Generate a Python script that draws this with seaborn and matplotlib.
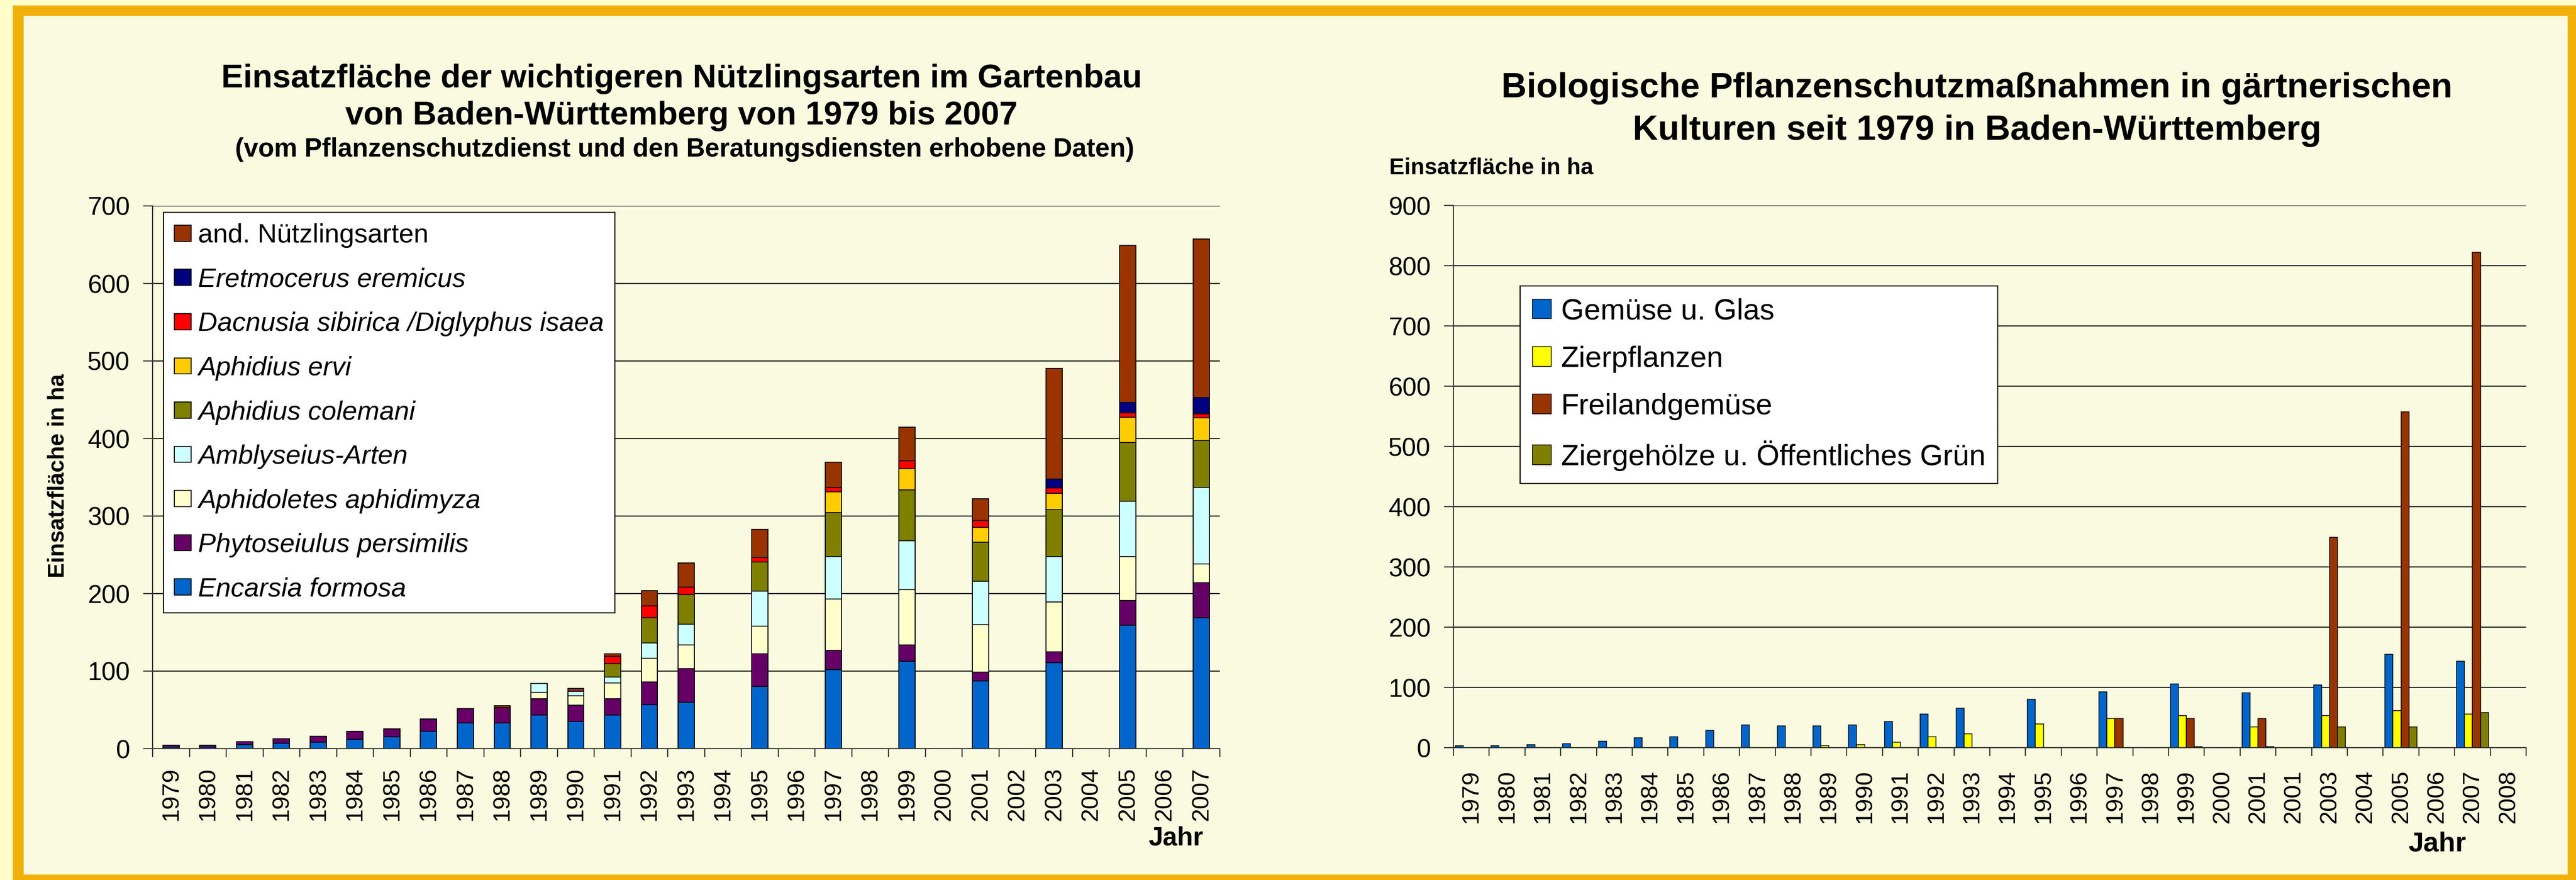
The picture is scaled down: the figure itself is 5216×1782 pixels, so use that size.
import matplotlib
matplotlib.use('Agg')
import matplotlib.pyplot as plt
from matplotlib.patches import Rectangle, Patch
import seaborn as sns
import numpy as np
import pandas as pd

# Stil
sns.set_style('white')
plt.rcParams['font.family'] = ['Liberation Sans', 'DejaVu Sans']
plt.rcParams['text.color'] = 'black'
plt.rcParams['xtick.color'] = 'black'
plt.rcParams['ytick.color'] = 'black'

ORANGE = '#F2B10A'
CREME = '#FAFADF'
AUSSEN = '#FFFFCC'

# ---------------- Daten linke Grafik (gestapelt, 1979-2007) ----------------
jahre_links = [str(j) for j in range(1979, 2008)]

encarsia = [2, 2, 5.4, 7.2, 8.5, 12.3, 15.4, 22, 33.4, 33.4, 43, 35, 43, 57, 60,
            0, 80, 0, 102, 0, 113, 0, 87, 0, 111, 0, 159, 0, 169]
phytoseiulus = [2.5, 2.5, 3.3, 5.8, 7.2, 10.3, 10.3, 16, 18.5, 19.2, 21.3, 21, 21.3, 29, 43,
                0, 42, 0, 25, 0, 21, 0, 12, 0, 14, 0, 32, 0, 45]
aphidoletes = [0, 0, 0, 0, 0, 0, 0, 0, 0, 0, 8.3, 12.3, 20.6, 30.5, 30.5,
               0, 36, 0, 66, 0, 71, 0, 61, 0, 64, 0, 57, 0, 24]
amblyseius = [0, 0, 0, 0, 0, 0, 0, 0, 0, 0, 11.5, 5.6, 7.2, 19.5, 27,
              0, 45, 0, 54.5, 0, 63, 0, 56, 0, 59, 0, 71, 0, 99]
colemani = [0, 0, 0, 0, 0, 0, 0, 0, 0, 0, 0, 0, 17.7, 32.5, 38,
            0, 37.7, 0, 57, 0, 65.5, 0, 50.4, 0, 60, 0, 75.7, 0, 60.3]
ervi = [0, 0, 0, 0, 0, 0, 0, 0, 0, 0, 0, 0, 0, 0, 0,
        0, 0, 0, 26.7, 0, 27.7, 0, 19.1, 0, 21, 0, 33, 0, 29.3]
dacnusia = [0, 0, 0, 0, 0, 0, 0, 0, 0, 0, 0, 0, 9.5, 15.3, 9.7,
            0, 5.7, 0, 5.5, 0, 10.3, 0, 8.7, 0, 7, 0, 5.5, 0, 5.5]
eretmocerus = [0, 0, 0, 0, 0, 0, 0, 0, 0, 0, 0, 0, 0, 0, 0,
               0, 0, 0, 0, 0, 0, 0, 0, 0, 11.7, 0, 13, 0, 21]
andere = [0, 0, 0, 0, 0, 0, 0, 0, 0, 2.5, 0, 3.6, 3.3, 20, 31,
          0, 36.5, 0, 33, 0, 43, 0, 28, 0, 142.5, 0, 203, 0, 204]

namen_links = ['Encarsia formosa', 'Phytoseiulus persimilis', 'Aphidoletes aphidimyza',
               'Amblyseius-Arten', 'Aphidius colemani', 'Aphidius ervi',
               'Dacnusia sibirica /Diglyphus isaea', 'Eretmocerus eremicus',
               'and. Nützlingsarten']
farben_links = ['#0066CC', '#660066', '#FFFFCC', '#CCFFFF', '#808000',
                '#FFCC00', '#FF0000', '#000080', '#993300']

# ---------------- Daten rechte Grafik (gruppiert, 1979-2008) ----------------
jahre_rechts = [str(j) for j in range(1979, 2009)]
beschriftung_rechts = ['1979', '1980', '1981', '1982', '1983', '1984', '1985', '1986',
                       '1987', '1988', '1989', '1990', '1991', '1992', '1993', '1994',
                       '1995', '1996', '1997', '1998', '1999', '2000', '2001', '2001',
                       '2003', '2004', '2005', '2006', '2007', '2008']

gemuese_glas = [3.5, 3.5, 5, 6.4, 10.6, 16.2, 18.4, 28.9, 38.1, 36, 36, 38.1, 43.8, 55.8, 65.7,
                0, 80.5, 0, 92.5, 0, 105.9, 0, 91.1, 0, 103.8, 0, 154.6, 0, 143.3, 0]
zierpflanzen = [0, 0, 0, 0, 0, 0, 0, 0, 0, 0, 3.5, 5, 9.2, 18.4, 23.3,
                0, 39.5, 0, 48.7, 0, 53, 0, 34.6, 0, 53, 0, 61.4, 0, 55.8, 0]
freiland = [0, 0, 0, 0, 0, 0, 0, 0, 0, 0, 0, 0, 0, 0, 0,
            0, 0, 0, 48.7, 0, 48.7, 0, 48.7, 0, 349.5, 0, 557, 0, 821.8, 0]
ziergehoelze = [0, 0, 0, 0, 0, 0, 0, 0, 0, 0, 0, 0, 0, 0, 0,
                0, 0, 0, 0, 0, 1.4, 0, 1.4, 0, 34.6, 0, 34.6, 0, 57.9, 0]

bereiche = ['Gemüse u. Glas', 'Zierpflanzen', 'Freilandgemüse',
            'Ziergehölze u. Öffentliches Grün']
farben_rechts = ['#0066CC', '#FFFF00', '#993300', '#808000']

# ---------------- Figur ----------------
W, H, DPI = 5216, 1782, 100
fig = plt.figure(figsize=(W / DPI, H / DPI), dpi=DPI, facecolor=AUSSEN)


def fx(px):
    return px / W


def fy(py):
    return 1 - py / H


# Rahmen
fig.add_artist(Rectangle((fx(26), 0), 1 - fx(26), fy(11), transform=fig.transFigure,
                         facecolor=ORANGE, edgecolor='none', zorder=-20))
fig.add_artist(Rectangle((fx(48), fy(1771)), fx(5199) - fx(48), fy(32) - fy(1771),
                         transform=fig.transFigure, facecolor=CREME, edgecolor='none', zorder=-10))

ax1 = fig.add_axes([fx(309), fy(1516), (2470 - 309) / W, (1516 - 417) / H])
ax2 = fig.add_axes([fx(2943), fy(1514), (5115 - 2943) / W, (1514 - 416) / H])

# linke Grafik: gestapelte Säulen (kumuliert, von oben nach unten überlagert)
kumuliert = np.cumsum(np.array([encarsia, phytoseiulus, aphidoletes, amblyseius, colemani,
                                ervi, dacnusia, eretmocerus, andere]), axis=0)
for i in range(len(namen_links) - 1, -1, -1):
    sns.barplot(x=jahre_links, y=kumuliert[i], order=jahre_links, color=farben_links[i],
                saturation=1, width=0.44, edgecolor='black', linewidth=1.3,
                errorbar=None, ax=ax1)

# rechte Grafik: gruppierte Säulen
df_rechts = pd.DataFrame({
    'Jahr': np.tile(jahre_rechts, len(bereiche)),
    'Bereich': np.repeat(bereiche, len(jahre_rechts)),
    'Fläche': np.concatenate([gemuese_glas, zierpflanzen, freiland, ziergehoelze]),
})
sns.barplot(data=df_rechts, x='Jahr', y='Fläche', hue='Bereich', order=jahre_rechts,
            hue_order=bereiche, palette=farben_rechts, saturation=1, width=0.89,
            edgecolor='black', linewidth=1.1, errorbar=None, legend=False, ax=ax2)

# Achsen gestalten
for ax, n, ymax, beschr in ((ax1, len(jahre_links), 700, jahre_links),
                            (ax2, len(jahre_rechts), 900, beschriftung_rechts)):
    ax.set_facecolor('none')
    ax.set_axisbelow(True)
    ax.yaxis.grid(True, color='#1a1a1a', linewidth=1.6)
    ax.xaxis.grid(False)
    for s in ('top', 'right'):
        ax.spines[s].set_visible(False)
    for s in ('left', 'bottom'):
        ax.spines[s].set_color('#333333')
        ax.spines[s].set_linewidth(1.6)
    ax.set_xlabel('')
    ax.set_ylabel('')
    ax.set_ylim(0, ymax)
    ax.set_yticks(range(0, ymax + 1, 100))
    ax.set_xlim(-0.5, n - 0.5)
    ax.set_xticks(range(n))
    ax.set_xticklabels(beschr, rotation=90, fontsize=35)
    ax.set_xticks(np.arange(-0.5, n, 1), minor=True)
    ax.tick_params(axis='x', which='minor', bottom=True, direction='out', length=12,
                   width=1.6, color='#333333')
    ax.tick_params(axis='y', left=True, direction='out', length=14, width=1.6,
                   color='#333333', labelsize=37, pad=19)

ax1.tick_params(axis='x', which='major', length=0, pad=27)
ax2.tick_params(axis='x', which='major', length=0, pad=32)

# Legenden
h_links = [Patch(facecolor=farben_links[i], edgecolor='black', linewidth=1.3)
           for i in range(len(namen_links) - 1, -1, -1)]
l_links = [namen_links[i] for i in range(len(namen_links) - 1, -1, -1)]
leg1 = ax1.legend(h_links, l_links, loc='upper left', bbox_to_anchor=(0.0102, 0.988),
                  fontsize=39, frameon=True, fancybox=False, framealpha=1,
                  facecolor='white', edgecolor='black', borderpad=0.41, labelspacing=0.73,
                  handlelength=0.63, handleheight=0.55, handletextpad=0.26, borderaxespad=0)
leg1.get_frame().set_linewidth(1.6)
for t, name in zip(leg1.get_texts(), l_links):
    if name != 'and. Nützlingsarten':
        t.set_style('italic')

h_rechts = [Patch(facecolor=c, edgecolor='black', linewidth=1.1) for c in farben_rechts]
leg2 = ax2.legend(h_rechts, bereiche, loc='upper left', bbox_to_anchor=(0.0622, 0.8515),
                  fontsize=43, frameon=True, fancybox=False, framealpha=1,
                  facecolor='white', edgecolor='black', borderpad=0.41, labelspacing=0.69,
                  handlelength=0.65, handleheight=0.65, handletextpad=0.32, borderaxespad=0)
leg2.get_frame().set_linewidth(1.6)

# Titel und Beschriftungen
fig.text(fx(1380), fy(177), 'Einsatzfläche der wichtigeren Nützlingsarten im Gartenbau',
         ha='center', va='baseline', fontsize=48, fontweight='bold')
fig.text(fx(1380), fy(252), 'von Baden-Württemberg von 1979 bis 2007',
         ha='center', va='baseline', fontsize=48, fontweight='bold')
fig.text(fx(1386), fy(317), '(vom Pflanzenschutzdienst und den Beratungsdiensten erhobene Daten)',
         ha='center', va='baseline', fontsize=38, fontweight='bold')
fig.text(fx(118), fy(963), 'Einsatzfläche in ha', rotation=90, ha='center', va='center',
         fontsize=33, fontweight='bold')
fig.text(fx(2381), fy(1712), 'Jahr', ha='center', va='baseline', fontsize=38, fontweight='bold')

fig.text(fx(4003), fy(197), 'Biologische Pflanzenschutzmaßnahmen in gärtnerischen',
         ha='center', va='baseline', fontsize=51, fontweight='bold')
fig.text(fx(4003), fy(283), 'Kulturen seit 1979 in Baden-Württemberg',
         ha='center', va='baseline', fontsize=51, fontweight='bold')
fig.text(fx(2813), fy(353), 'Einsatzfläche in ha', ha='left', va='baseline',
         fontsize=33, fontweight='bold')
fig.text(fx(4935), fy(1723), 'Jahr', ha='center', va='baseline', fontsize=40, fontweight='bold')

fig.savefig('out.png', dpi=DPI, facecolor=fig.get_facecolor())
